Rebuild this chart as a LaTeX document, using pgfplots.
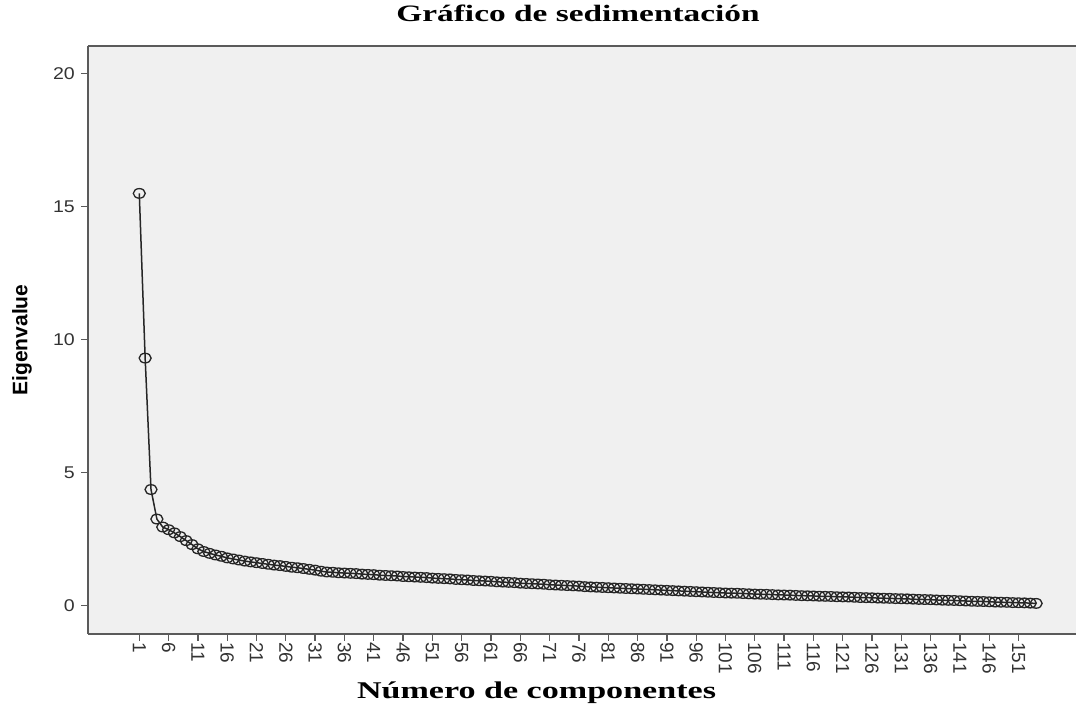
\documentclass[border=0pt]{standalone}
\usepackage{pgfplots}
\pgfplotsset{compat=1.18}
\usepackage{fontspec}
\setmainfont{Liberation Serif}
\newfontfamily\serifwide{Liberation Serif}[FakeStretch=1.42]
\newfontfamily\sanstick{Liberation Sans}[FakeStretch=1.15]
\newfontfamily\sansplain{Liberation Sans}
\definecolor{bgc}{HTML}{F0F0F0}
\definecolor{axc}{HTML}{5A5A5A}
\definecolor{txc}{HTML}{333333}
\definecolor{linec}{HTML}{262626}

\pgfplotstableread{
c e
1 15.50
2 9.31
3 4.37
4 3.26
5 2.96
6 2.86
7 2.74
8 2.60
9 2.45
10 2.30
11 2.14
12 2.04
13 1.97
14 1.91
15 1.86
16 1.80
17 1.76
18 1.72
19 1.68
20 1.65
21 1.62
22 1.59
23 1.56
24 1.53
25 1.51
26 1.48
27 1.45
28 1.43
29 1.40
30 1.37
31 1.34
32 1.30
33 1.27
34 1.26
35 1.24
36 1.23
37 1.22
38 1.21
39 1.19
40 1.18
41 1.17
42 1.15
43 1.14
44 1.13
45 1.12
46 1.10
47 1.09
48 1.08
49 1.07
50 1.06
51 1.04
52 1.03
53 1.02
54 1.01
55 0.99
56 0.98
57 0.97
58 0.95
59 0.94
60 0.93
61 0.92
62 0.90
63 0.89
64 0.88
65 0.87
66 0.85
67 0.84
68 0.83
69 0.82
70 0.81
71 0.79
72 0.78
73 0.77
74 0.76
75 0.75
76 0.74
77 0.72
78 0.71
79 0.70
80 0.69
81 0.68
82 0.67
83 0.66
84 0.65
85 0.64
86 0.63
87 0.62
88 0.61
89 0.60
90 0.59
91 0.58
92 0.57
93 0.56
94 0.55
95 0.54
96 0.53
97 0.52
98 0.51
99 0.50
100 0.49
101 0.48
102 0.475
103 0.47
104 0.46
105 0.45
106 0.44
107 0.435
108 0.43
109 0.42
110 0.41
111 0.405
112 0.40
113 0.39
114 0.38
115 0.375
116 0.37
117 0.36
118 0.355
119 0.35
120 0.34
121 0.335
122 0.33
123 0.32
124 0.31
125 0.305
126 0.30
127 0.29
128 0.285
129 0.28
130 0.27
131 0.265
132 0.26
133 0.25
134 0.24
135 0.235
136 0.23
137 0.22
138 0.21
139 0.205
140 0.20
141 0.19
142 0.18
143 0.17
144 0.165
145 0.16
146 0.15
147 0.14
148 0.135
149 0.13
150 0.12
151 0.115
152 0.11
153 0.10
154 0.09
}\scree

\begin{document}
\begin{tikzpicture}
\begin{axis}[
  name=ax,
  scale only axis,
  width=988pt, height=588pt,
  xmin=-7.75, xmax=160.8,
  ymin=-1.06, ymax=21.04,
  axis x line=box, axis y line=left,
  y axis line style={-},
  axis line style={draw=axc, line width=1.6pt},
  axis background/.style={fill=bgc},
  tick align=outside,
  xtick pos=bottom, ytick pos=left,
  major tick length=7pt,
  tick style={draw=axc, line width=1.3pt},
  xtick={1,6,...,151},
  ytick={0,5,10,15,20},
  /pgf/number format/assume math mode=true,
  yticklabel style={font=\sanstick\fontsize{17}{19}\selectfont, text=txc, inner sep=0pt, xshift=-6pt},
  xticklabel style={font=\sansplain\fontsize{19}{21}\selectfont, text=txc, rotate=-90, anchor=west, inner sep=1pt},
  title={Gráfico de sedimentación},
  title style={font=\serifwide\bfseries\fontsize{23.5}{27}\selectfont, at={(axis description cs:0.496,1.0306)}, anchor=base},
  xlabel={Número de componentes},
  xlabel style={font=\serifwide\bfseries\fontsize{24}{28}\selectfont, at={(axis description cs:0.454,-0.1105)}, anchor=base},
  ylabel={Eigenvalue},
  ylabel style={font=\sansplain\bfseries\fontsize{21}{24}\selectfont, at={(axis description cs:-0.0668,0.5)}, anchor=center, rotate=0},
  clip=false,
]
\addplot[draw=linec, line width=1.5pt, mark=o, mark size=6pt,
  mark options={draw=linec, line width=1.3pt, yscale=0.8, fill=none}]
  table[x=c, y=e] {\scree};
\end{axis}
\pgfresetboundingbox
\path[use as bounding box] ([xshift=-88pt,yshift=-74pt]ax.south west) rectangle ([yshift=46pt]ax.north east);
\end{tikzpicture}
\end{document}
